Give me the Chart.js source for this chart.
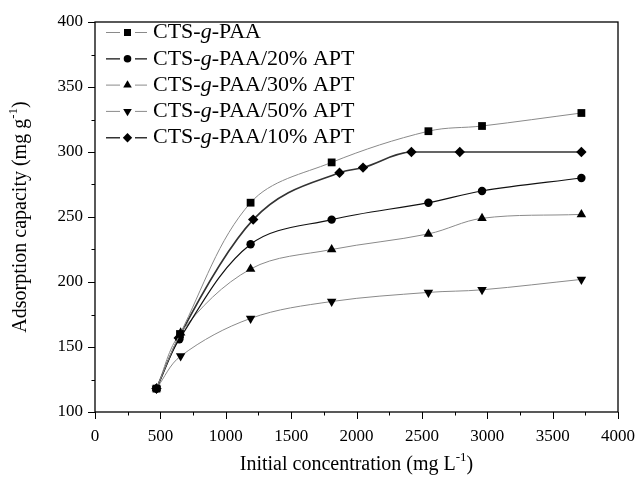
<!DOCTYPE html>
<html>
<head>
<meta charset="utf-8">
<script src="https://cdn.jsdelivr.net/npm/chart.js@4"></script>
<style>
  body { margin: 0; background: #fff; }
  canvas { display: block; }
</style>
</head>
<body>
<canvas id="adsorption" width="642" height="478"></canvas>
<script>
const adsorption = document.getElementById("adsorption");

const serif = '"Liberation Serif", "Times New Roman", serif';

// initial concentration (mg/L) and adsorption capacity (mg/g)
const concPAA = [470, 650, 1190, 1810, 2550, 2960, 3720];
const capPAA = [118, 160, 261, 292, 316, 320, 330];

const conc20 = [470, 645, 1190, 1810, 2550, 2960, 3720];
const cap20 = [118, 156, 229, 248, 261, 270, 280];

const conc30 = [470, 655, 1190, 1810, 2550, 2960, 3720];
const cap30 = [118, 161, 210, 225, 237, 249, 252];

const conc50 = [470, 655, 1190, 1810, 2550, 2960, 3720];
const cap50 = [118, 143, 172, 185, 192, 194, 202];

const conc10 = [470, 640, 1210, 1870, 2050, 2420, 2790, 3720];
const cap10 = [118, 157, 248, 284, 288, 300, 300, 300];

const xTicks = [0, 500, 1000, 1500, 2000, 2500, 3000, 3500, 4000];
const yTicks = [100, 150, 200, 250, 300, 350, 400];

function pairs(xs, ys) {
  return xs.map((v, i) => ({ x: v, y: ys[i] }));
}

// name parts: [before, italic, after]
const series = [
  { name: ["CTS-", "g", "-PAA"], data: pairs(concPAA, capPAA), style: "rect", radius: 5.5, rot: 0, line: "#8a8a8a", lw: 1, mono: false },
  { name: ["CTS-", "g", "-PAA/20% APT"], data: pairs(conc20, cap20), style: "circle", radius: 4.2, rot: 0, line: "#111", lw: 1.2, mono: false },
  { name: ["CTS-", "g", "-PAA/30% APT"], data: pairs(conc30, cap30), style: "triangle", radius: 5.5, rot: 0, line: "#8a8a8a", lw: 1, mono: false },
  { name: ["CTS-", "g", "-PAA/50% APT"], data: pairs(conc50, cap50), style: "triangle", radius: 5.5, rot: 180, line: "#8a8a8a", lw: 1, mono: false },
  { name: ["CTS-", "g", "-PAA/10% APT"], data: pairs(conc10, cap10), style: "rectRot", radius: 5.2, rot: 0, line: "#333", lw: 1.6, mono: true },
];

// box, minor ticks, axis titles and legend
const decorations = {
  id: "decorations",
  afterDraw(chart) {
    const { ctx, chartArea: a, scales: { x, y } } = chart;
    ctx.save();
    ctx.strokeStyle = "#000";
    ctx.lineWidth = 1.3;
    ctx.strokeRect(a.left, a.top, a.right - a.left, a.bottom - a.top);

    ctx.beginPath();
    for (let v = xTicks[0]; v <= xTicks[xTicks.length - 1]; v += 250) {
      const px = Math.round(x.getPixelForValue(v)) + 0.5;
      const len = v % 500 === 0 ? 7 : 3.5;
      ctx.moveTo(px, a.bottom);
      ctx.lineTo(px, a.bottom + len);
    }
    for (let v = yTicks[0]; v <= yTicks[yTicks.length - 1]; v += 25) {
      const py = Math.round(y.getPixelForValue(v)) + 0.5;
      const len = v % 50 === 0 ? 7 : 3.5;
      ctx.moveTo(a.left, py);
      ctx.lineTo(a.left - len, py);
    }
    ctx.lineWidth = 1;
    ctx.stroke();

    // axis titles with superscript
    function titleWithSup(main, sup, tail, cx, cy) {
      ctx.font = "20px " + serif;
      const w1 = ctx.measureText(main).width;
      const w3 = ctx.measureText(tail).width;
      ctx.font = "13px " + serif;
      const w2 = ctx.measureText(sup).width;
      let sx = cx - (w1 + w2 + w3) / 2;
      ctx.textBaseline = "middle";
      ctx.textAlign = "left";
      ctx.font = "20px " + serif;
      ctx.fillText(main, sx, cy);
      ctx.font = "13px " + serif;
      ctx.fillText(sup, sx + w1, cy - 7);
      ctx.font = "20px " + serif;
      ctx.fillText(tail, sx + w1 + w2, cy);
    }
    ctx.fillStyle = "#000";
    titleWithSup("Initial concentration (mg L", "-1", ")", (a.left + a.right) / 2, 465);
    ctx.save();
    ctx.translate(21, (a.top + a.bottom) / 2);
    ctx.rotate(-Math.PI / 2);
    titleWithSup("Adsorption capacity (mg g", "-1", ")", 0, 0);
    ctx.restore();

    // legend
    series.forEach((s, i) => {
      const ly = 32.5 + i * 26.3;
      ctx.strokeStyle = s.line;
      ctx.lineWidth = s.lw;
      ctx.beginPath();
      ctx.moveTo(106, ly);
      ctx.lineTo(120, ly);
      ctx.moveTo(135, ly);
      ctx.lineTo(147, ly);
      ctx.stroke();
      ctx.fillStyle = "#000";
      Chart.helpers.drawPoint(ctx, { pointStyle: s.style, rotation: s.rot, radius: s.radius * 0.9, borderWidth: 0 }, 127.5, ly);
      ctx.textBaseline = "middle";
      ctx.textAlign = "left";
      let tx = 153;
      ctx.font = "22px " + serif;
      ctx.fillText(s.name[0], tx, ly);
      tx += ctx.measureText(s.name[0]).width;
      ctx.font = "italic 22px " + serif;
      ctx.fillText(s.name[1], tx, ly);
      tx += ctx.measureText(s.name[1]).width;
      ctx.font = "22px " + serif;
      ctx.fillText(s.name[2], tx, ly);
    });
    ctx.restore();
  },
};

new Chart(adsorption, {
  type: "scatter",
  data: {
    datasets: series.map((s) => ({
      label: s.name.join(""),
      data: s.data,
      showLine: true,
      cubicInterpolationMode: s.mono ? "monotone" : "default",
      tension: 0.35,
      borderColor: s.line,
      borderWidth: s.lw,
      backgroundColor: "#000",
      pointBackgroundColor: "#000",
      pointBorderWidth: 0,
      pointStyle: s.style,
      pointRotation: s.rot,
      pointRadius: s.radius,
      pointHoverRadius: s.radius,
    })),
  },
  options: {
    responsive: false,
    animation: false,
    layout: { padding: { left: 0, top: 22, right: 24, bottom: 0 } },
    plugins: { legend: { display: false }, tooltip: { enabled: false } },
    scales: {
      x: {
        type: "linear",
        min: xTicks[0],
        max: xTicks[xTicks.length - 1],
        afterBuildTicks: (s) => { s.ticks = xTicks.map((v) => ({ value: v })); },
        afterFit: (s) => { s.height = 66; s.paddingLeft = 0; s.paddingRight = 0; },
        grid: { display: false, drawTicks: false },
        border: { display: false },
        ticks: { color: "#000", padding: 14, maxRotation: 0, font: { family: serif, size: 17 }, callback: (v) => String(v) },
      },
      y: {
        type: "linear",
        min: yTicks[0],
        max: yTicks[yTicks.length - 1],
        afterBuildTicks: (s) => { s.ticks = yTicks.map((v) => ({ value: v })); },
        afterFit: (s) => { s.width = 95; s.paddingTop = 0; s.paddingBottom = 0; },
        grid: { display: false, drawTicks: false },
        border: { display: false },
        ticks: { color: "#000", padding: 12, font: { family: serif, size: 17 }, callback: (v) => String(v) },
      },
    },
  },
  plugins: [decorations],
});
</script>
</body>
</html>
